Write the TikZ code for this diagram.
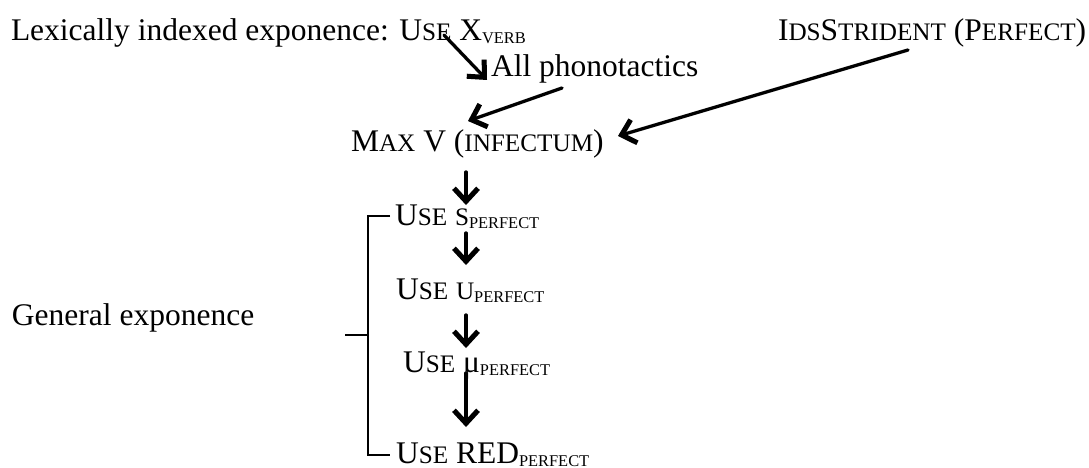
\documentclass[tikz,border=0pt]{standalone}
\usepackage{fontspec}
\setmainfont{Liberation Serif}
\usetikzlibrary{arrows.meta}

% small capitals set at reduced size, and lowered small-cap subscripts
\newcommand\scap[1]{{\fontsize{25.2}{30}\selectfont #1}}
\newcommand\lowsc[1]{\raisebox{-3pt}{\fontsize{16.4}{20}\selectfont #1}}

\tikzset{
  arrtip/.style={-{Straight Barb[length=13pt,width=24pt,line width'=5pt]}},
  lbl/.style={anchor=base west, inner sep=0pt, outer sep=0pt,
              font=\fontsize{31.5}{36}\selectfont},
  arr/.style={line width=3.2pt, line cap=round, arrtip},
  arrshade/.style={line width=3.6pt, line cap=round, arrtip,
                   draw=black!35, opacity=0.5, shift={(1.8,2.4)}},
  brace/.style={line width=2.2pt, line join=miter}
}

\begin{document}
\begin{tikzpicture}[x=1pt,y=-1pt]
\useasboundingbox (0,0) rectangle (1089,468);

% constraint labels
\node[lbl] (lex)  at (11,41)  {Lexically indexed exponence: U\scap{SE} X\lowsc{VERB}};
\node[lbl] (phon) at (491,77) {All phonotactics};
\node[lbl] (ids)  at (778,41) {I\scap{DS}S\scap{TRIDENT} (P\scap{ERFECT})};
\node[lbl] (max)  at (351,151) {M\scap{AX} V (\scap{INFECTUM})};
\node[lbl] (us)   at (395,225) {U\scap{SE} \scap{S}\lowsc{PERFECT}};
\node[lbl] (uu)   at (396,299) {U\scap{SE} \scap{U}\lowsc{PERFECT}};
\node[lbl] (umu)  at (403,372) {U\scap{SE} μ\lowsc{PERFECT}};
\node[lbl] (ured) at (396,463) {U\scap{SE} RED\lowsc{PERFECT}};
\node[lbl] (gen)  at (12,325) {General exponence};

% connector end points
\coordinate (lexS)  at (444,35);
\coordinate (phonN) at (487,80);
\coordinate (phonS) at (562,88);
\coordinate (maxN)  at (468,121);
\coordinate (idsS)  at (908,50);
\coordinate (maxE)  at (618,136);
\coordinate (maxS)  at (466,172);
\coordinate (usN)   at (466,205);
\coordinate (usS)   at (466,233);
\coordinate (uuN)   at (466,265);
\coordinate (uuS)   at (466,315);
\coordinate (umuN)  at (466,348);
\coordinate (umuS)  at (466,373);
\coordinate (uredN) at (466,427);

% ranking arrows, each with a soft shade below it
\foreach \a/\b in {lexS/phonN, phonS/maxN, idsS/maxE, maxS/usN,
                   usS/uuN, uuS/umuN, umuS/uredN}{
  \draw[arrshade] (\a) -- (\b);
  \draw[arr] (\a) -- (\b);
}

% bracket grouping the general exponence constraints
\coordinate (brT) at (390,216);
\coordinate (brB) at (390,455);
\coordinate (brM) at (345,335);
\draw[brace] (brT) -- (368,216) -- (368,455) -- (brB);
\draw[brace] (brM) -- (368,335);
\end{tikzpicture}
\end{document}
